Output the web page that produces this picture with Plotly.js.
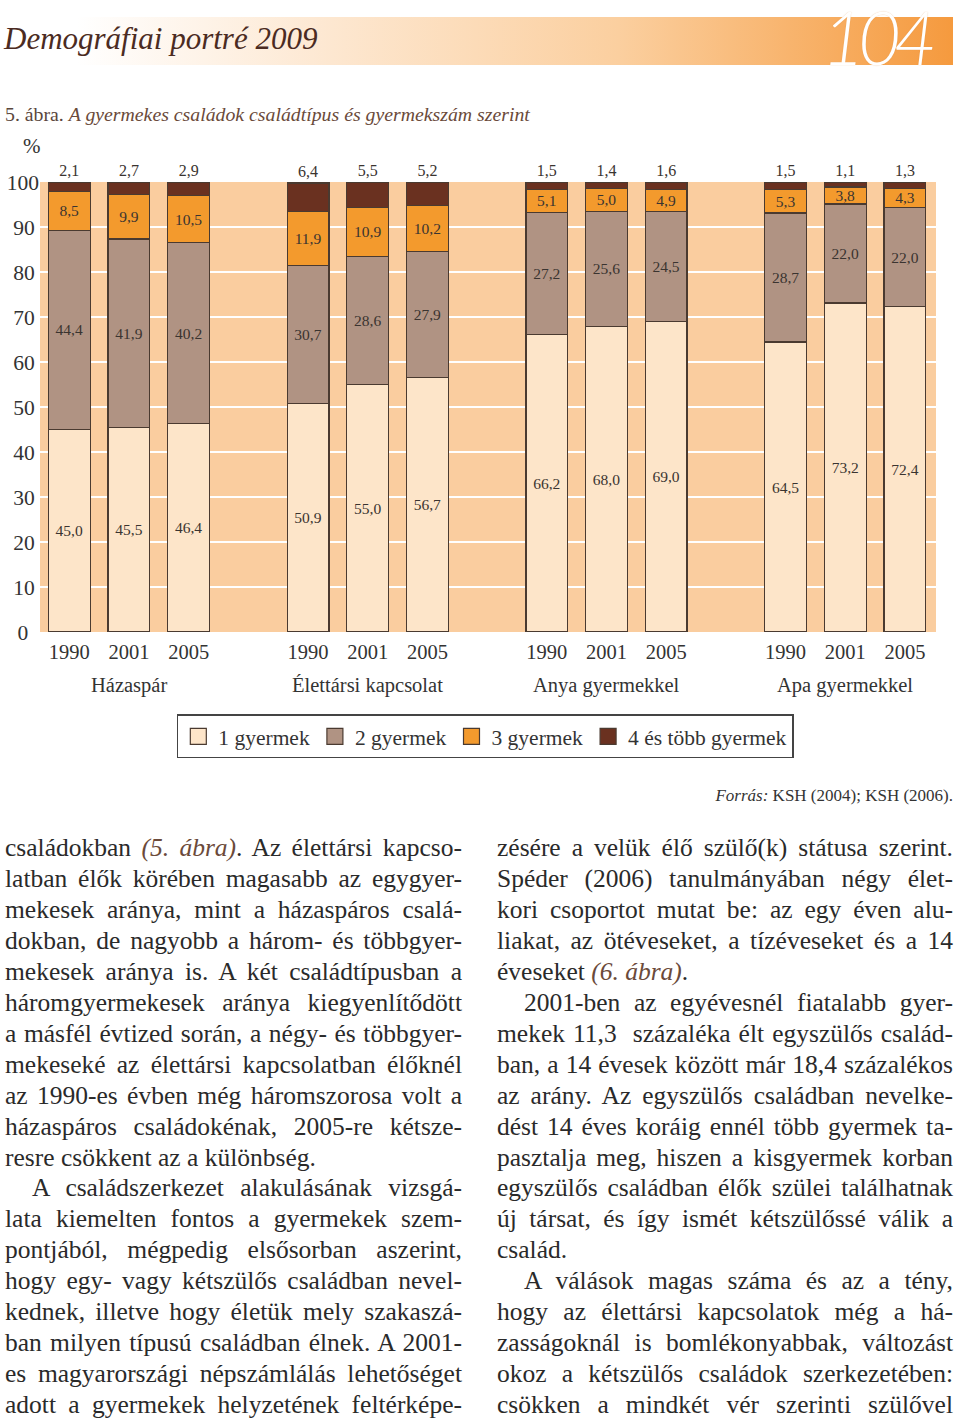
<!DOCTYPE html>
<html>
<head>
<meta charset="utf-8">
<script src="https://cdn.plot.ly/plotly-3.0.1.min.js"></script>
<style>
  html, body { margin:0; padding:0; background:#fff; }
  body { width:960px; height:1421px; position:relative; overflow:hidden; font-family:"Liberation Serif", serif; color:#2b2b2b; }
  #band { position:absolute; left:0; top:17px; width:953px; height:48px;
          background:linear-gradient(to right, rgba(255,255,255,0) 8%, #fde7d0 35%, #fbcf9f 65%, #f59a3e 100%); }
  #runhead { position:absolute; left:4px; top:21px; font-family:"Liberation Serif", serif; font-style:italic; font-size:31px; color:#4b2b22; }
  #pageno { position:absolute; left:818px; top:0px; padding:0 14px 0 4px; line-height:1; font-family:"Lato", sans-serif; font-style:italic; font-weight:300; font-size:74px; color:#fff; letter-spacing:-7px;
            text-shadow:0 0 1px rgba(214,140,70,0.55); }
  #figtitle { position:absolute; left:5px; top:103px; font-size:19.8px; color:#5a463c; }
  #figtitle i { color:#6a4a3a; }
  #chart { position:absolute; left:0; top:130px; width:960px; height:660px; }
  #source { position:absolute; right:7px; top:786px; font-size:17px; color:#333; }
  .col { position:absolute; top:833px; font-size:25.5px; line-height:30.95px; color:#2a2a2a; }
  #colL { left:5px; width:457px; }
  #colR { left:497px; width:456px; }
  .col div { text-align:justify; text-align-last:justify; white-space:nowrap; }
  .col div.last { text-align-last:left; }
  .col div.ind { text-indent:27px; }
  .col i { color:#6b4a3a; }
</style>
</head>
<body>
<div id="band"></div>
<div id="runhead">Demográfiai portré 2009</div>
<div id="pageno">104</div>
<div id="figtitle">5. ábra. <i>A gyermekes családok családtípus és gyermekszám szerint</i></div>
<div id="chart"></div>
<div id="source"><i>Forrás:</i> KSH (2004); KSH (2006).</div>

<div class="col" id="colL">
<div>családokban <i>(5. ábra)</i>. Az élettársi kapcso-</div>
<div>latban élők körében magasabb az egygyer-</div>
<div>mekesek aránya, mint a házaspáros csalá-</div>
<div>dokban, de nagyobb a három- és többgyer-</div>
<div>mekesek aránya is. A két családtípusban a</div>
<div>háromgyermekesek aránya kiegyenlítődött</div>
<div>a másfél évtized során, a négy- és többgyer-</div>
<div>mekeseké az élettársi kapcsolatban élőknél</div>
<div>az 1990-es évben még háromszorosa volt a</div>
<div>házaspáros családokénak, 2005-re kétsze-</div>
<div class="last">resre csökkent az a különbség.</div>
<div class="ind">A családszerkezet alakulásának vizsgá-</div>
<div>lata kiemelten fontos a gyermekek szem-</div>
<div>pontjából, mégpedig elsősorban aszerint,</div>
<div>hogy egy- vagy kétszülős családban nevel-</div>
<div>kednek, illetve hogy életük mely szakaszá-</div>
<div>ban milyen típusú családban élnek. A 2001-</div>
<div>es magyarországi népszámlálás lehetőséget</div>
<div>adott a gyermekek helyzetének feltérképe-</div>
</div>

<div class="col" id="colR">
<div>zésére a velük élő szülő(k) státusa szerint.</div>
<div>Spéder (2006) tanulmányában négy élet-</div>
<div>kori csoportot mutat be: az egy éven alu-</div>
<div>liakat, az ötéveseket, a tízéveseket és a 14</div>
<div class="last">éveseket <i>(6. ábra)</i>.</div>
<div class="ind">2001-ben az egyévesnél fiatalabb gyer-</div>
<div>mekek 11,3 &nbsp;százaléka élt egyszülős család-</div>
<div>ban, a 14 évesek között már 18,4 százalékos</div>
<div>az arány. Az egyszülős családban nevelke-</div>
<div>dést 14 éves koráig ennél több gyermek ta-</div>
<div>pasztalja meg, hiszen a kisgyermek korban</div>
<div>egyszülős családban élők szülei találhatnak</div>
<div>új társat, és így ismét kétszülőssé válik a</div>
<div class="last">család.</div>
<div class="ind">A válások magas száma és az a tény,</div>
<div>hogy az élettársi kapcsolatok még a há-</div>
<div>zasságoknál is bomlékonyabbak, változást</div>
<div>okoz a kétszülős családok szerkezetében:</div>
<div>csökken a mindkét vér szerinti szülővel</div>
</div>

<script>
// ---- data ----
const groups = ["Házaspár", "Élettársi kapcsolat", "Anya gyermekkel", "Apa gyermekkel"];
const years = ["1990", "2001", "2005"];
const seriesNames = ["1 gyermek", "2 gyermek", "3 gyermek", "4 és több gyermek"];
const child1 = [45.0, 45.5, 46.4, 50.9, 55.0, 56.7, 66.2, 68.0, 69.0, 64.5, 73.2, 72.4];
const child2 = [44.4, 41.9, 40.2, 30.7, 28.6, 27.9, 27.2, 25.6, 24.5, 28.7, 22.0, 22.0];
const child3 = [8.5, 9.9, 10.5, 11.9, 10.9, 10.2, 5.1, 5.0, 4.9, 5.3, 3.8, 4.3];
const child4 = [2.1, 2.7, 2.9, 6.4, 5.5, 5.2, 1.5, 1.4, 1.6, 1.5, 1.1, 1.3];
const yTicks = [0, 10, 20, 30, 40, 50, 60, 70, 80, 90, 100];

// ---- build ----
const colors = ["#fde5c9", "#b09383", "#f39a2d", "#6a3120"];
const lineColor = "#4a3a30";
const FONT = "Liberation Serif, serif";
const xs = [], tickText = [];
groups.forEach((g, gi) => years.forEach((y, yi) => { xs.push(gi * 4 + yi); tickText.push(y); }));
const fmt = v => v.toFixed(1).replace(".", ",");
const allSeries = [child1, child2, child3, child4];

const traces = allSeries.map((vals, i) => ({
  type: "bar",
  name: seriesNames[i],
  showlegend: false,
  x: xs,
  y: vals,
  width: 0.7,
  text: vals.map(fmt),
  textposition: i === 3 ? "outside" : "inside",
  insidetextanchor: "middle",
  constraintext: "none",
  textangle: 0,
  cliponaxis: false,
  textfont: { family: FONT, size: 15.5, color: "#3a3430" },
  outsidetextfont: { family: FONT, size: 16, color: "#3a3430" },
  marker: { color: colors[i], line: { color: lineColor, width: 1.2 } },
  hoverinfo: "none"
}));
// legend entries (square swatches, no marks drawn)
seriesNames.forEach((n, i) => traces.push({
  type: "scatter", mode: "markers", name: n, x: [null], y: [null], showlegend: true,
  marker: { symbol: "square", size: 20, color: colors[i], line: { color: lineColor, width: 1.2 } },
  hoverinfo: "none"
}));

const yTickText = yTicks.map(v => v === 0 ? "0\u2007" : (v === 100 ? "100" : v + "\u2009"));

const annotations = groups.map((g, gi) => ({
  text: g, xref: "x", yref: "paper", x: gi * 4 + 1, y: 0, yanchor: "top", yshift: -40,
  showarrow: false, font: { family: FONT, size: 20.5, color: "#333" }
}));
annotations.push({
  text: "%", xref: "paper", yref: "paper", x: -0.0212, y: 1, yanchor: "bottom", yshift: 22,
  showarrow: false, font: { family: FONT, size: 21, color: "#333" }
});

const layout = {
  width: 960, height: 660,
  margin: { l: 40, r: 24, t: 52, b: 158 },
  paper_bgcolor: "rgba(0,0,0,0)",
  plot_bgcolor: "#facd9f",
  barmode: "stack",
  bargap: 0,
  showlegend: true,
  font: { family: FONT, color: "#333" },
  xaxis: {
    range: [-0.49, 14.52], tickmode: "array", tickvals: xs, ticktext: tickText,
    showgrid: false, zeroline: false, showline: false, ticks: "", ticklabelstandoff: 5,
    tickfont: { family: FONT, size: 20.5, color: "#333" }, fixedrange: true, automargin: false
  },
  yaxis: {
    range: [0, 100.1], tickmode: "array", tickvals: yTicks, ticktext: yTickText,
    showgrid: true, gridcolor: "#ffffff", gridwidth: 2, zeroline: false, showline: false, ticks: "",
    tickfont: { family: FONT, size: 21.5, color: "#333" }, fixedrange: true, automargin: false
  },
  legend: {
    orientation: "h", traceorder: "normal", x: 0.497, xanchor: "center", y: -0.183, yanchor: "top",
    bgcolor: "#ffffff", bordercolor: "#444", borderwidth: 1.5,
    font: { family: FONT, size: 21.5, color: "#333" }
  },
  annotations: annotations
};

Plotly.newPlot("chart", traces, layout, { displayModeBar: false, staticPlot: true });
</script>
</body>
</html>
